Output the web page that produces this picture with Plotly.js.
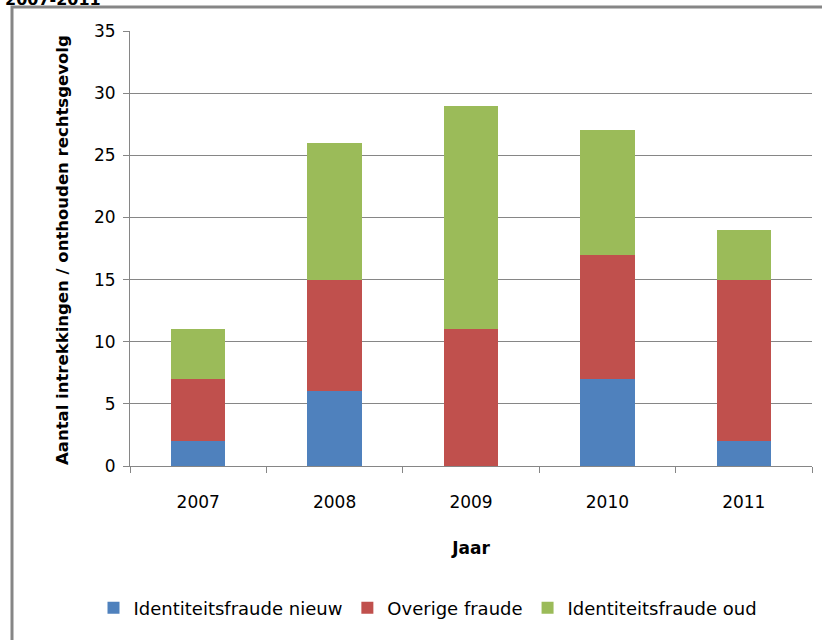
<!DOCTYPE html>
<html>
<head>
<meta charset="utf-8">
<script src="https://cdn.plot.ly/plotly-3.0.1.min.js"></script>
<style>html,body{margin:0;padding:0;background:#fff;}#chart{width:822px;height:640px;}</style>
</head>
<body>
<div id="chart"></div>
<script>
var years = ['2007', '2008', '2009', '2010', '2011'];
var identNieuw = [2, 6, 0, 7, 2];
var overigeFraude = [5, 9, 11, 10, 13];
var identOud = [4, 11, 18, 10, 4];
var seriesNames = ['Identiteitsfraude nieuw', 'Overige fraude', 'Identiteitsfraude oud'];
var seriesColors = ['#4f81bd', '#c0504d', '#9bbb59'];
var yTicks = [0, 5, 10, 15, 20, 25, 30, 35];

var fontFam = '"DejaVu Sans", "Liberation Sans", Arial, sans-serif';

var seriesValues = [identNieuw, overigeFraude, identOud];
var traces = seriesValues.map(function (vals, i) {
  return {
    type: 'bar',
    x: years,
    y: vals,
    name: seriesNames[i],
    marker: {color: seriesColors[i], line: {width: 0}},
    hoverinfo: 'x+y+name'
  };
});

var W = 822, H = 640;
var L = 130, R = 10, T = 31, B = 174;
var pw = W - L - R, ph = H - T - B;
function px(x) { return (x - L) / pw; }
function py(y) { return (H - B - y) / ph; }

var layout = {
  width: W,
  height: H,
  margin: {l: L, r: R, t: T, b: B, pad: 0, autoexpand: false},
  paper_bgcolor: '#ffffff',
  plot_bgcolor: '#ffffff',
  barmode: 'stack',
  bargap: 0.6,
  font: {family: fontFam, size: 16, color: '#000000'},
  xaxis: {
    type: 'category',
    showline: true,
    linecolor: '#868686',
    linewidth: 1,
    ticks: 'outside',
    tickson: 'boundaries',
    ticklen: 6,
    tickcolor: '#868686',
    showgrid: false,
    zeroline: false,
    tickfont: {family: fontFam, size: 17, color: '#000'},
    ticklabelstandoff: 21,
    title: {text: 'Jaar', font: {family: fontFam, size: 17, color: '#000', weight: 'bold'}, standoff: 30}
  },
  yaxis: {
    range: [0, 35],
    tickvals: yTicks,
    showline: true,
    linecolor: '#868686',
    linewidth: 1,
    ticks: 'outside',
    ticklen: 6,
    tickcolor: '#868686',
    showgrid: true,
    gridcolor: '#868686',
    gridwidth: 1,
    zeroline: false,
    tickfont: {family: fontFam, size: 17, color: '#000'},
    ticklabelstandoff: 4
  },
  showlegend: true,
  legend: {
    orientation: 'h',
    traceorder: 'normal',
    xref: 'container',
    yref: 'container',
    x: 428 / W,
    xanchor: 'center',
    y: 1 - 608 / H,
    yanchor: 'middle',
    font: {family: fontFam, size: 18, color: '#000'},
    itemwidth: 30,
    tracegroupgap: 0
  },
  annotations: [
    {
      xref: 'paper', yref: 'paper',
      x: px(62), y: py(250),
      xanchor: 'center', yanchor: 'middle',
      textangle: -90,
      showarrow: false,
      text: '<b>Aantal intrekkingen / onthouden rechtsgevolg</b>',
      font: {family: fontFam, size: 16.5, color: '#000'}
    },
    {
      xref: 'paper', yref: 'paper',
      x: px(3), y: py(-1),
      xanchor: 'left', yanchor: 'middle',
      showarrow: false,
      text: '<b>2007-2011</b>',
      font: {family: fontFam, size: 16, color: '#000'}
    }
  ],
  shapes: [
    {
      type: 'rect', xref: 'paper', yref: 'paper',
      x0: px(12), x1: px(840), y0: py(660), y1: py(7),
      line: {color: '#868686', width: 3},
      fillcolor: 'rgba(0,0,0,0)',
      layer: 'below'
    }
  ]
};

Plotly.newPlot('chart', traces, layout, {displayModeBar: false, staticPlot: true});
</script>
</body>
</html>
